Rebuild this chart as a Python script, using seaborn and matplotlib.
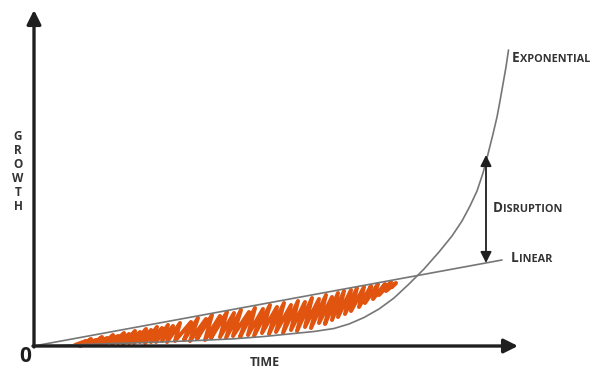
import matplotlib
matplotlib.use("Agg")
import matplotlib.pyplot as plt
import seaborn as sns

# curves (time / growth in arbitrary units)
exp_t = [0, 40, 80, 120, 160, 200, 230, 260, 280, 300, 315, 330, 345, 360, 375, 390, 405,
         418, 428, 436, 443, 449, 454, 459, 463, 466, 469, 472, 474.5]
exp_g = [0, 1.2, 2.5, 3.8, 5.3, 7.2, 9.5, 12.5, 14.5, 17.5, 22, 28.5, 37, 48, 62, 77, 94,
         110, 125, 140, 155, 173, 192, 212, 229, 245, 262, 279, 296]
lin_t = [0, 468]
lin_g = [0, 86]

# hand scribble between the two curves (zigzag vertices: bottom, top, bottom, ...)
scribble_t = [41, 52, 46, 57, 52, 62, 57, 68, 62, 73, 68, 79, 73, 84, 78, 90, 84, 95, 89, 101,
              95, 106, 100, 112, 106, 117, 111, 123, 117, 128, 122, 134, 128, 139, 133, 146,
              141, 157, 150, 164, 156, 172, 163, 178, 171, 186, 177, 193, 186, 200, 192, 207,
              199, 215, 206, 221, 214, 229, 220, 236, 228, 243, 235, 250, 242, 257, 249, 264,
              257, 271, 263, 278, 271, 285, 277, 292, 285, 298, 291, 304,
              298, 310, 304, 317, 311, 323, 317, 330, 325, 337, 331, 344, 339, 351, 345, 357,
              352, 362, 358]
scribble_g = [1, 5, 0, 7, 2, 6, 1, 9, 2, 8, 1, 11, 3, 10, 2, 13, 3, 12, 2, 15,
              3, 14, 3, 17, 4, 16, 3, 19, 4, 18, 4, 21, 5, 20, 4, 23,
              5, 24, 6, 28, 5, 27, 7, 31, 6, 30, 8, 34, 9, 33, 8, 36,
              10, 34, 9, 38, 11, 37, 10, 41, 13, 39, 12, 43, 14, 41, 13, 45,
              16, 44, 15, 48, 19, 47, 18, 51, 23, 49, 22, 53,
              26, 55, 29, 56, 32, 58, 35, 59, 39, 60, 43, 62, 47, 62, 51, 64,
              55, 63, 59]

disruption_t = 452
disruption_g = [83, 191]

sns.set_style("white")
plt.rcParams['font.family'] = ['Open Sans', 'DejaVu Sans']

fig = plt.figure(figsize=(5.92, 3.69), dpi=100)
ax = fig.add_axes([0, 0, 1, 1])
ax.set_xlim(-34, 558)
ax.set_ylim(-23, 346)
ax.axis("off")

ink = "#1f1f1f"
grey = "#767676"
orange = "#e05410"

# orange scribble
sns.lineplot(x=scribble_t, y=scribble_g, sort=False, estimator=None, ax=ax,
             color=orange, lw=2.9, solid_joinstyle="round", solid_capstyle="round")

# the two curves
sns.lineplot(x=lin_t, y=lin_g, ax=ax, color=grey, lw=1.2)
sns.lineplot(x=exp_t, y=exp_g, sort=False, estimator=None, ax=ax, color=grey, lw=1.2)

# axes with arrows
head = "-|>,head_length=0.6,head_width=0.3"
ax.annotate("", xy=(0, 336), xytext=(0, -1),
            arrowprops=dict(arrowstyle=head, color=ink, lw=2.4, mutation_scale=14,
                            shrinkA=0, shrinkB=0))
ax.annotate("", xy=(484, 0), xytext=(-1, 0),
            arrowprops=dict(arrowstyle=head, color=ink, lw=2.4, mutation_scale=14,
                            shrinkA=0, shrinkB=0))

# disruption arrow
ax.annotate("", xy=(disruption_t, disruption_g[1]), xytext=(disruption_t, disruption_g[0]),
            arrowprops=dict(arrowstyle="<|-|>,head_length=0.6,head_width=0.3", color=ink,
                            lw=1.3, mutation_scale=11, shrinkA=0, shrinkB=0))

# labels
ax.text(-9, -11, "0", fontsize=15, fontweight="bold", color=ink, ha="center", va="center")
ax.text(231, -17, "TIME", fontsize=9, fontweight="bold", color="#333333",
        ha="center", va="center")
ax.text(-16, 174, "G\nR\nO\nW\nT\nH", fontsize=8.5, fontweight="bold", color="#333333",
        ha="center", va="center", linespacing=1.1)


def small_caps(x, y, word):
    first = ax.text(x, y, word[0], fontsize=9.8, fontweight="bold", color="#333333",
                    ha="left", va="center")
    ax.annotate(word[1:], xy=(1, 0), xycoords=first, fontsize=7.8, fontweight="bold",
                color="#333333", ha="left", va="bottom")


small_caps(478, 288, "EXPONENTIAL")
small_caps(459, 138, "DISRUPTION")
small_caps(477, 88, "LINEAR")

fig.savefig("out.png", dpi=100, facecolor="white")
